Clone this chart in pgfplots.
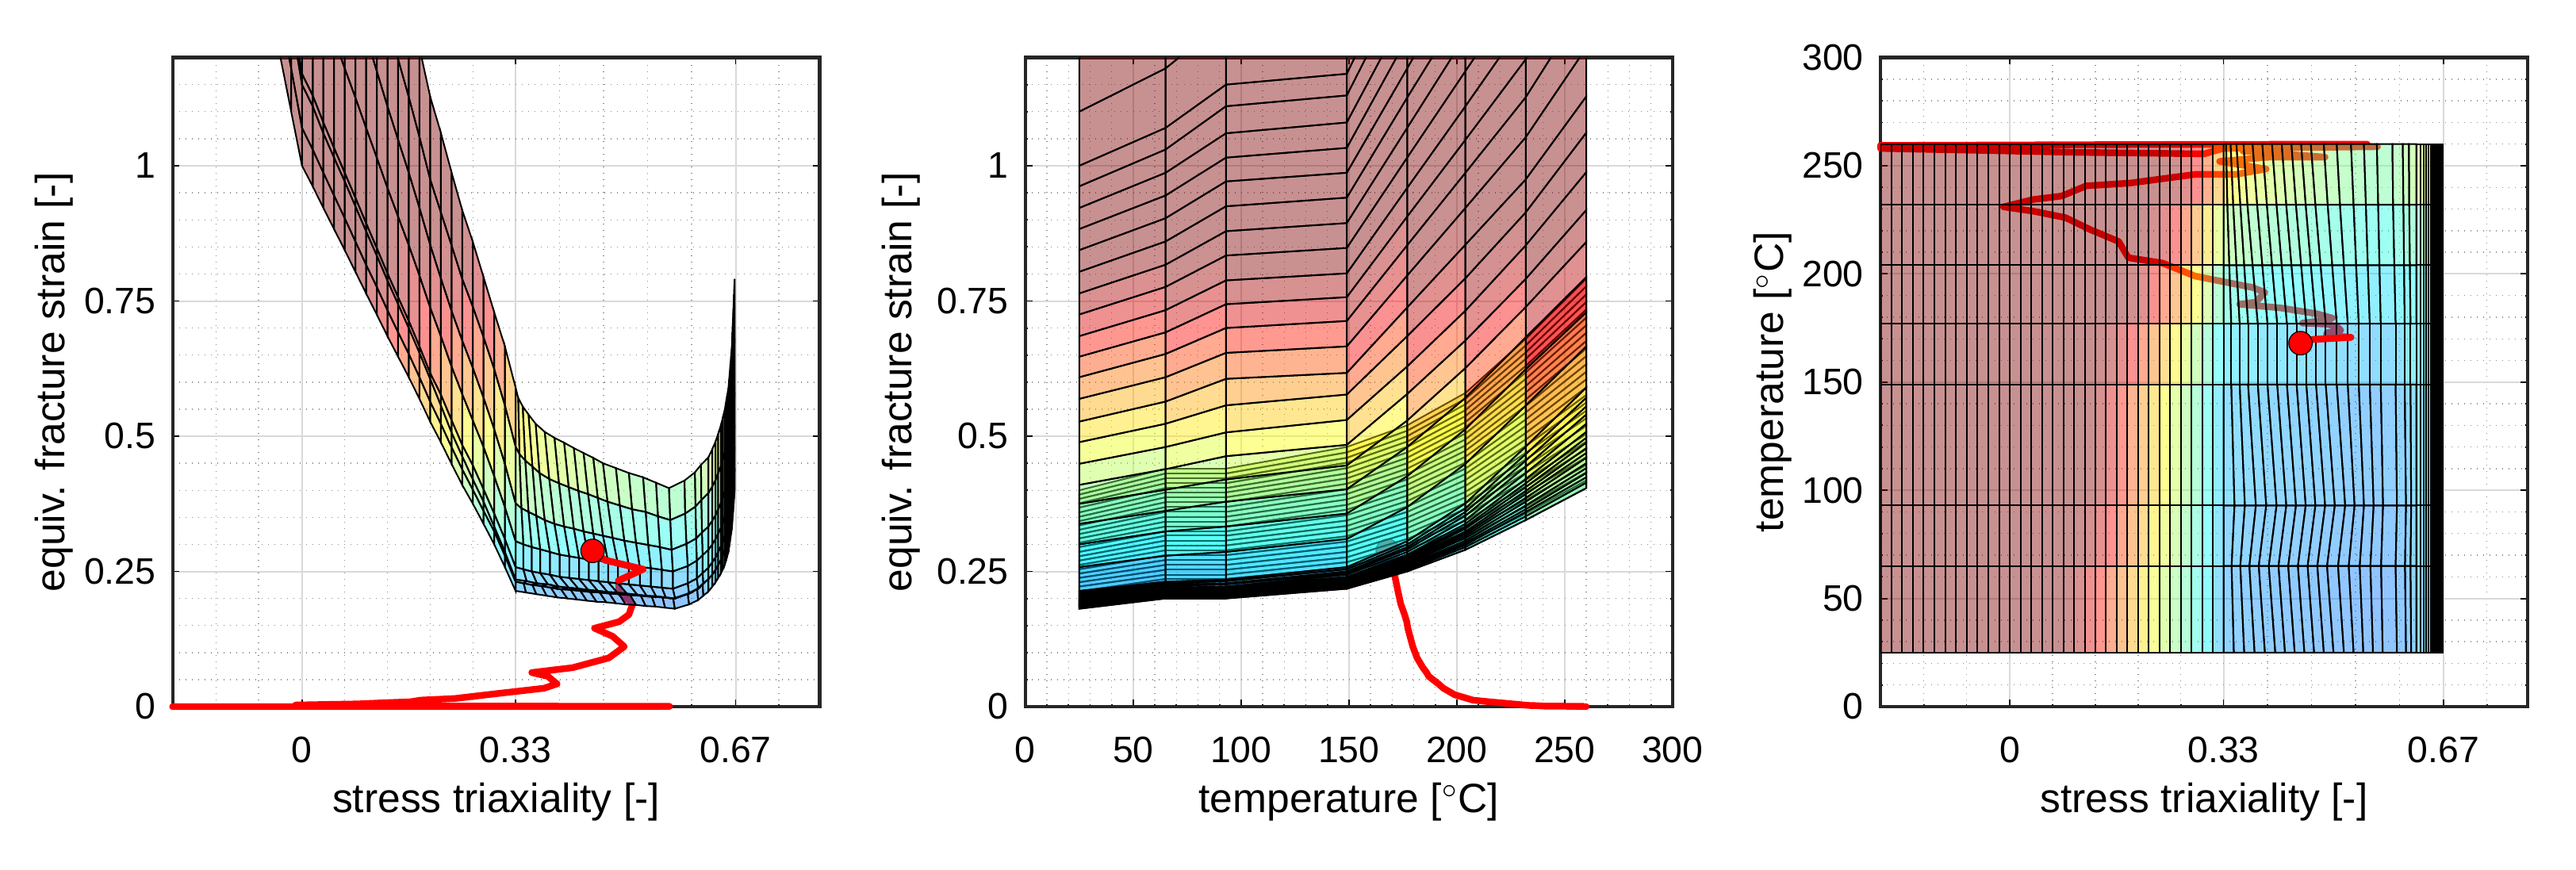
\documentclass[border=0pt]{standalone}
\usepackage{pgfplots}
\usepackage{pgfplotstable}
\usepackage{fontspec}
\setmainfont{Liberation Sans}
\pgfplotsset{compat=1.18}
\pgfplotstableread{
eta T e
-.2 25 2.18
-.2 65 2.33
-.2 93 2.51
-.2 149 2.55
-.2 177 3.05
-.2 204 3.53
-.2 232 4.03
-.2 260 4.67
-.1833 25 2.08
-.1833 65 2.23
-.1833 93 2.39
-.1833 149 2.43
-.1833 177 2.91
-.1833 204 3.37
-.1833 232 3.85
-.1833 260 4.45
-.1667 25 1.98
-.1667 65 2.12
-.1667 93 2.28
-.1667 149 2.32
-.1667 177 2.77
-.1667 204 3.21
-.1667 232 3.66
-.1667 260 4.24
-.15 25 1.89
-.15 65 2.02
-.15 93 2.17
-.15 149 2.21
-.15 177 2.65
-.15 204 3.06
-.15 232 3.50
-.15 260 4.04
-.1333 25 1.79
-.1333 65 1.92
-.1333 93 2.06
-.1333 149 2.09
-.1333 177 2.51
-.1333 204 2.90
-.1333 232 3.31
-.1333 260 3.83
-.1167 25 1.69
-.1167 65 1.81
-.1167 93 1.94
-.1167 149 1.98
-.1167 177 2.37
-.1167 204 2.74
-.1167 232 3.13
-.1167 260 3.62
-.1 25 1.59
-.1 65 1.70
-.1 93 1.83
-.1 149 1.86
-.1 177 2.23
-.1 204 2.58
-.1 232 2.94
-.1 260 3.40
-.0833 25 1.49
-.0833 65 1.59
-.0833 93 1.71
-.0833 149 1.74
-.0833 177 2.09
-.0833 204 2.41
-.0833 232 2.76
-.0833 260 3.19
-.0667 25 1.39
-.0667 65 1.49
-.0667 93 1.60
-.0667 149 1.63
-.0667 177 1.95
-.0667 204 2.25
-.0667 232 2.57
-.0667 260 2.97
-.05 25 1.30
-.05 65 1.39
-.05 93 1.50
-.05 149 1.52
-.05 177 1.82
-.05 204 2.11
-.05 232 2.41
-.05 260 2.78
-.0333 25 1.20
-.0333 65 1.28
-.0333 93 1.38
-.0333 149 1.40
-.0333 177 1.68
-.0333 204 1.94
-.0333 232 2.22
-.0333 260 2.57
-.0167 25 1.10
-.0167 65 1.18
-.0167 93 1.27
-.0167 149 1.29
-.0167 177 1.54
-.0167 204 1.78
-.0167 232 2.04
-.0167 260 2.35
0 25 1.00
0 65 1.07
0 93 1.15
0 149 1.17
0 177 1.40
0 204 1.62
0 232 1.85
0 260 2.14
.0165 25 .962
.0165 65 1.03
.0165 93 1.11
.0165 149 1.13
.0165 177 1.35
.0165 204 1.56
.0165 232 1.78
.0165 260 2.06
.033 25 .922
.033 65 .987
.033 93 1.06
.033 149 1.08
.033 177 1.29
.033 204 1.49
.033 232 1.71
.033 260 1.97
.0495 25 .883
.0495 65 .945
.0495 93 1.015
.0495 149 1.033
.0495 177 1.236
.0495 204 1.43
.0495 232 1.63
.0495 260 1.89
.066 25 .844
.066 65 .903
.066 93 .971
.066 149 .987
.066 177 1.18
.066 204 1.37
.066 232 1.56
.066 260 1.81
.0825 25 .804
.0825 65 .86
.0825 93 .925
.0825 149 .941
.0825 177 1.126
.0825 204 1.30
.0825 232 1.49
.0825 260 1.72
.099 25 .764
.099 65 .817
.099 93 .879
.099 149 .894
.099 177 1.07
.099 204 1.24
.099 232 1.41
.099 260 1.63
.1155 25 .725
.1155 65 .776
.1155 93 .834
.1155 149 .848
.1155 177 1.015
.1155 204 1.175
.1155 232 1.34
.1155 260 1.55
.132 25 .685
.132 65 .733
.132 93 .788
.132 149 .801
.132 177 .959
.132 204 1.11
.132 232 1.27
.132 260 1.47
.1485 25 .647
.1485 65 .692
.1485 93 .744
.1485 149 .757
.1485 177 .906
.1485 204 1.048
.1485 232 1.197
.1485 260 1.385
.165 25 .609
.165 65 .652
.165 93 .70
.165 149 .713
.165 177 .853
.165 204 .987
.165 232 1.127
.165 260 1.303
.1815 25 .569
.1815 65 .609
.1815 93 .654
.1815 149 .666
.1815 177 .797
.1815 204 .922
.1815 232 1.053
.1815 260 1.218
.198 25 .527
.198 65 .564
.198 93 .606
.198 149 .617
.198 177 .738
.198 204 .854
.198 232 .975
.198 260 1.128
.2145 25 .489
.2145 65 .523
.2145 93 .557
.2145 149 .577
.2145 177 .685
.2145 204 .792
.2145 232 .914
.2145 260 1.061
.231 25 .449
.231 65 .480
.231 93 .507
.231 149 .530
.231 177 .629
.231 204 .732
.231 232 .853
.231 260 .988
.2475 25 .41
.2475 65 .439
.2475 93 .463
.2475 149 .484
.2475 177 .578
.2475 204 .677
.2475 232 .791
.2475 260 .918
.264 25 .375
.264 65 .401
.264 93 .42
.264 149 .446
.264 177 .529
.264 204 .626
.264 232 .739
.264 260 .859
.2805 25 .338
.2805 65 .362
.2805 93 .379
.2805 149 .402
.2805 177 .48
.2805 204 .571
.2805 232 .683
.2805 260 .794
.297 25 .30
.297 65 .324
.297 93 .333
.297 149 .357
.297 177 .426
.297 204 .513
.297 232 .624
.297 260 .729
.3135 25 .258
.3135 65 .279
.3135 93 .286
.3135 149 .31
.3135 177 .369
.3135 204 .449
.3135 232 .557
.3135 260 .666
.33 25 .214
.33 65 .231
.33 93 .235
.33 149 .258
.33 177 .306
.33 204 .376
.33 232 .481
.33 260 .59
.346 25 .211
.3425 65 .228
.347 93 .232
.342 149 .254
.342 177 .30
.339 204 .367
.336 232 .467
.334 260 .571
.362 25 .208
.356 65 .225
.363 93 .228
.355 149 .250
.355 177 .295
.35 204 .36
.345 232 .455
.341 260 .555
.378 25 .205
.37 65 .223
.38 93 .226
.368 149 .247
.368 177 .291
.362 204 .353
.356 232 .444
.35 260 .54
.394 25 .202
.3845 65 .22
.396 93 .222
.383 149 .244
.383 177 .286
.375 204 .345
.367 232 .432
.361 260 .523
.41 25 .2
.40 65 .217
.412 93 .22
.398 149 .24
.398 177 .281
.39 204 .338
.382 232 .421
.375 260 .508
.425 25 .198
.415 65 .216
.427 93 .218
.413 149 .238
.413 177 .278
.405 204 .333
.397 232 .413
.39 260 .497
.44 25 .196
.43 65 .214
.442 93 .216
.428 149 .236
.428 177 .275
.42 204 .329
.412 232 .406
.405 260 .488
.455 25 .194
.445 65 .212
.457 93 .214
.443 149 .234
.443 177 .272
.435 204 .324
.427 232 .399
.42 260 .478
.47 25 .193
.46 65 .211
.472 93 .212
.458 149 .232
.458 177 .27
.45 204 .32
.442 232 .393
.435 260 .469
.485 25 .191
.475 65 .209
.487 93 .211
.473 149 .23
.473 177 .267
.465 204 .316
.457 232 .386
.45 260 .46
.5 25 .189
.49 65 .208
.502 93 .209
.488 149 .228
.488 177 .264
.48 204 .312
.472 232 .379
.465 260 .45
.516 25 .188
.507 65 .206
.518 93 .207
.505 149 .226
.505 177 .261
.498 204 .307
.491 232 .372
.485 260 .441
.531 25 .186
.5235 65 .205
.5325 93 .205
.522 149 .224
.522 177 .258
.516 204 .303
.51 232 .365
.505 260 .432
.546 25 .185
.5405 65 .203
.547 93 .204
.539 149 .222
.539 177 .256
.535 204 .299
.531 232 .36
.527 260 .424
.561 25 .183
.557 65 .202
.562 93 .202
.556 149 .22
.556 177 .253
.553 204 .295
.55 232 .352
.547 260 .414
.576 25 .181
.5735 65 .2
.5765 93 .2
.573 149 .218
.573 177 .25
.571 204 .29
.569 232 .345
.567 260 .404
.598 25 .189
.596 65 .209
.598 93 .209
.596 149 .228
.596 177 .26
.594 204 .301
.592 232 .357
.591 260 .418
.612 25 .197
.6105 65 .218
.612 93 .218
.61 149 .237
.61 177 .27
.609 204 .311
.608 232 .37
.607 260 .433
.62 25 .205
.619 65 .227
.62 93 .227
.619 149 .247
.619 177 .28
.618 204 .322
.617 232 .382
.6165 260 .447
.628 25 .213
.628 65 .236
.628 93 .236
.628 149 .257
.628 177 .29
.628 204 .333
.628 232 .395
.628 260 .461
.634 25 .222
.634 65 .244
.634 93 .244
.634 149 .267
.634 177 .30
.634 204 .344
.634 232 .407
.634 260 .476
.639 25 .23
.639 65 .253
.639 93 .253
.639 149 .276
.639 177 .31
.639 204 .354
.639 232 .419
.639 260 .49
.643 25 .238
.643 65 .262
.643 93 .262
.643 149 .286
.643 177 .32
.643 204 .365
.643 232 .432
.643 260 .504
.647 25 .246
.647 65 .271
.647 93 .271
.647 149 .296
.647 177 .33
.647 204 .376
.647 232 .444
.647 260 .519
.65 25 .254
.65 65 .28
.65 93 .28
.65 149 .305
.65 177 .34
.65 204 .387
.65 232 .457
.65 260 .533
.653 25 .262
.653 65 .289
.653 93 .289
.653 149 .315
.653 177 .35
.653 204 .397
.653 232 .469
.653 260 .547
.655 25 .27
.655 65 .298
.655 93 .298
.655 149 .325
.655 177 .36
.655 204 .408
.655 232 .482
.655 260 .562
.657 25 .278
.657 65 .307
.657 93 .307
.657 149 .334
.657 177 .37
.657 204 .419
.657 232 .494
.657 260 .576
.659 25 .286
.659 65 .316
.659 93 .316
.659 149 .344
.659 177 .38
.659 204 .43
.659 232 .506
.659 260 .59
.66 25 .295
.66 65 .324
.66 93 .324
.66 149 .354
.66 177 .39
.66 204 .44
.66 232 .519
.66 260 .605
.661 25 .303
.661 65 .333
.661 93 .333
.661 149 .364
.661 177 .40
.661 204 .451
.661 232 .531
.661 260 .619
.662 25 .311
.662 65 .342
.662 93 .342
.662 149 .373
.662 177 .41
.662 204 .462
.662 232 .544
.662 260 .633
.663 25 .319
.663 65 .351
.663 93 .351
.663 149 .383
.663 177 .42
.663 204 .473
.663 232 .556
.663 260 .648
.664 25 .327
.664 65 .36
.664 93 .36
.664 149 .393
.664 177 .43
.664 204 .483
.664 232 .568
.664 260 .662
.6645 25 .335
.6645 65 .369
.6645 93 .369
.6645 149 .402
.6645 177 .44
.6645 204 .494
.6645 232 .581
.6645 260 .676
.665 25 .343
.665 65 .378
.665 93 .378
.665 149 .412
.665 177 .45
.665 204 .505
.665 232 .593
.665 260 .691
.6655 25 .351
.6655 65 .387
.6655 93 .387
.6655 149 .422
.6655 177 .46
.6655 204 .516
.6655 232 .606
.6655 260 .705
.666 25 .359
.666 65 .396
.666 93 .396
.666 149 .431
.666 177 .47
.666 204 .526
.666 232 .618
.666 260 .719
.6665 25 .368
.6665 65 .404
.6665 93 .404
.6665 149 .441
.6665 177 .48
.6665 204 .537
.6665 232 .63
.6665 260 .734
.667 25 .376
.667 65 .413
.667 93 .413
.667 149 .451
.667 177 .49
.667 204 .548
.667 232 .643
.667 260 .748
.6675 25 .384
.6675 65 .422
.6675 93 .422
.6675 149 .46
.6675 177 .50
.6675 204 .559
.6675 232 .655
.6675 260 .762
.668 25 .392
.668 65 .431
.668 93 .431
.668 149 .47
.668 177 .51
.668 204 .569
.668 232 .668
.668 260 .777
.6685 25 .40
.6685 65 .44
.6685 93 .44
.6685 149 .48
.6685 177 .52
.6685 204 .58
.6685 232 .68
.6685 260 .791
}\surfdata
\pgfplotstableread{
eta T e
.552 260 0
.2 259.8 0
-.2 259.4 0
-.2 258 0
-.08 257.3 0
.1 256.2 0
.3 255.5 0
.33 258 0
.568 258.8 .0005
.37 258.3 .0005
.36 256.8 .0005
.487 254 .0005
.40 254 .0005
.324 252 .0005
.396 248.5 .001
.349 246 .001
.286 246 .001
.186 242 .001
.118 240.7 .001
.08 236 .002
.036 234.4 .002
-.01 231 .003
.036 229 .004
.086 226 .005
.124 220.5 .007
.168 215 .009
.183 207.5 .012
.236 205 .015
.286 199 .022
.374 193.8 .034
.394 191.5 .042
.38 187 .056
.355 186 .063
.418 184.3 .072
.474 181.6 .09
.498 179.6 .111
.48 178.3 .13
.452 177.3 .145
.49 176.8 .157
.505 175.8 .17
.511 174 .19
.49 172.8 .212
.489 171.7 .233
.527 170.7 .254
.468 169.7 .271
.449 168 .288
}\reddata
\pgfplotstableread{
eta T e
.489 171.7 .233
.527 170.7 .254
.468 169.7 .271
.449 168 .288
}\redendA
\pgfplotstableread{
eta T e
.527 170.7 .254
.468 169.7 .271
.449 168 .288
}\redendB
\pgfplotstableread{
eta T e
.449 168 .288
}\dotdata
\pgfplotsset{
 panel/.style={scale only axis,width=204bp,height=204.6bp,anchor=south west},
 deco/.style={
  panel,clip=false,
  tick align=inside,major tick length=2.2bp,minor tick length=.7bp,
  tick style={black,line width=.45bp},
  axis line style={black!85,line width=1.05bp},
  xmajorgrids,ymajorgrids,xminorgrids,yminorgrids,
  major grid style={black!15,line width=.5bp},
  minor grid style={black!45,line width=.35bp,dash pattern=on .35bp off 1.65bp},
  /pgf/number format/assume math mode=true,
  tick label style={font=\fontsize{11.6bp}{14bp}\selectfont},
  label style={font=\fontsize{12.9bp}{15bp}\selectfont},
  xticklabel style={yshift=-6bp},
  yticklabel style={xshift=-1.8bp},
  xlabel style={yshift=.6bp},
 },
 etaaxis/.style={xmin=-.2,xmax=.8,xtick={0,.33,.67},xticklabels={0,0.33,0.67},
  minor xtick={-.133,-.067,.066,.132,.198,.264,.398,.466,.534,.602,.737}},
 strainaxis/.style={ymin=0,ymax=1.2,ytick={0,.25,.5,.75,1},yticklabels={0,0.25,0.5,0.75,1},
  minor ytick={.05,.1,.15,.2,.3,.35,.4,.45,.55,.6,.65,.7,.8,.85,.9,.95,1.05,1.1,1.15}},
 taxis/.style={ymin=0,ymax=300,ytick={0,50,...,300},
  minor ytick={10,20,30,40,60,70,80,90,110,120,130,140,160,170,180,190,210,220,230,240,260,270,280,290}},
 overlay/.style={panel,hide axis},
 surfstyle/.style={surf,shader=faceted,faceted color=black,fill opacity=.43,draw opacity=1,
  line width=.5bp,mesh/cols=8,mesh/rows=76,point meta=\thisrow{e}},
 cmap/.style={view={0}{90},point meta min=0,point meta max=.8,
  colormap={myjet}{rgb255(0cm)=(0,0,128); rgb255(1cm)=(0,0,255); rgb255(3cm)=(0,255,255); rgb255(5cm)=(255,255,0); rgb255(7cm)=(255,0,0); rgb255(8cm)=(128,0,0)}},
 redline/.style={red,line width=2.1bp,line join=round,line cap=round,no marks},
 reddot/.style={only marks,mark=*,mark size=3.7bp,mark options={fill=red,draw=black,line width=.3bp}},
}
\begin{document}
\begin{tikzpicture}[x=1bp,y=1bp]
\useasboundingbox (0,0) rectangle (812,274);
% ---- panel 1
\begin{axis}[deco,at={(54.4bp,51.25bp)},etaaxis,strainaxis,xlabel={stress triaxiality [-]},ylabel={equiv. fracture strain [-]},ylabel style={yshift=-3.5bp}]
\addplot[redline] table[x=eta,y=e]{\reddata};
\end{axis}
\begin{axis}[overlay,cmap,at={(54.4bp,51.25bp)},etaaxis,strainaxis]
\addplot3[surfstyle] table[x=eta,y=e,z=T]{\surfdata};
\end{axis}
\begin{axis}[overlay,clip=false,at={(54.4bp,51.25bp)},etaaxis,strainaxis]
\addplot[redline] table[x=eta,y=e]{\redendA};
\addplot[reddot] table[x=eta,y=e]{\dotdata};
\end{axis}
% ---- panel 2
\begin{axis}[deco,at={(323.2bp,51.25bp)},xmin=0,xmax=300,xtick={0,50,...,300},
 minor xtick={10,20,30,40,60,70,80,90,110,120,130,140,160,170,180,190,210,220,230,240,260,270,280,290},
 strainaxis,xlabel={temperature [$^{\circ}$C]},ylabel={equiv. fracture strain [-]},ylabel style={yshift=-1.5bp}]
\addplot[redline] table[x=T,y=e]{\reddata};
\addplot[reddot] table[x=T,y=e]{\dotdata};
\end{axis}
\begin{axis}[overlay,cmap,at={(323.2bp,51.25bp)},xmin=0,xmax=300,strainaxis]
\addplot3[surfstyle] table[x=T,y=e,z=eta]{\surfdata};
\end{axis}
% ---- panel 3
\begin{axis}[deco,at={(592.75bp,51.25bp)},etaaxis,taxis,xlabel={stress triaxiality [-]},ylabel={temperature [$^{\circ}$C]},ylabel style={yshift=-3.5bp}]
\addplot[redline] table[x=eta,y=T]{\reddata};
\end{axis}
\begin{axis}[overlay,cmap,at={(592.75bp,51.25bp)},etaaxis,taxis]
\addplot3[surfstyle] table[x=eta,y=T,z=e]{\surfdata};
\end{axis}
\begin{axis}[overlay,clip=false,at={(592.75bp,51.25bp)},etaaxis,taxis]
\addplot[redline] table[x=eta,y=T]{\redendB};
\addplot[reddot] table[x=eta,y=T]{\dotdata};
\end{axis}
\end{tikzpicture}
\end{document}
